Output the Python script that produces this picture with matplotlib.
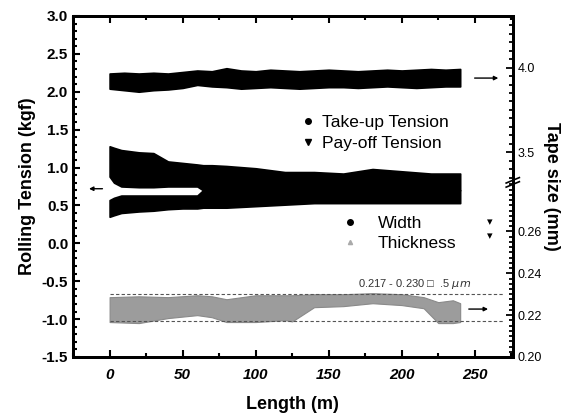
import numpy as np
import matplotlib
matplotlib.use('Agg')
import matplotlib.pyplot as plt
from matplotlib.lines import Line2D

plt.rcParams['font.family'] = ['Liberation Sans', 'DejaVu Sans']

# take-up tension band (kgf), envelope
takeup_x = [0, 10, 20, 30, 40, 50, 60, 70, 80, 90, 100, 110, 120, 130, 140, 150, 160, 170,
            180, 190, 200, 210, 220, 230, 240]
takeup_top = [2.24, 2.25, 2.24, 2.25, 2.24, 2.26, 2.28, 2.27, 2.31, 2.28, 2.27, 2.29, 2.28, 2.27,
              2.28, 2.29, 2.28, 2.27, 2.28, 2.29, 2.28, 2.29, 2.30, 2.29, 2.30]
takeup_bot = [2.04, 2.02, 2.00, 2.02, 2.03, 2.05, 2.09, 2.07, 2.06, 2.04, 2.05, 2.06, 2.05, 2.04,
              2.05, 2.06, 2.06, 2.05, 2.06, 2.07, 2.06, 2.05, 2.06, 2.07, 2.07]

# pay-off tension band (kgf), has a split in the first ~65 m
payoff_x = [0, 3, 8, 20, 30, 40, 50, 60, 64, 70, 80, 100, 120, 140, 160, 180, 200, 220, 240]
payoff_top = [1.28, 1.26, 1.23, 1.20, 1.19, 1.08, 1.06, 1.04, 1.03, 1.03, 1.02, 0.99, 0.94, 0.94,
              0.92, 0.98, 0.95, 0.92, 0.92]
payoff_gap_hi = [0.88, 0.80, 0.75, 0.74, 0.74, 0.75, 0.75, 0.75, 0.70, 0.70, 0.70, 0.70, 0.70, 0.70,
                 0.70, 0.70, 0.70, 0.70, 0.70]
payoff_gap_lo = [0.57, 0.60, 0.63, 0.63, 0.63, 0.63, 0.63, 0.63, 0.70, 0.70, 0.70, 0.70, 0.70, 0.70,
                 0.70, 0.70, 0.70, 0.70, 0.70]
payoff_bot = [0.35, 0.37, 0.40, 0.42, 0.43, 0.45, 0.46, 0.46, 0.47, 0.47, 0.47, 0.49, 0.51, 0.53,
              0.53, 0.53, 0.53, 0.53, 0.53]

# thickness band (mm, right axis lower part)
thick_x = [0, 20, 40, 60, 70, 80, 100, 120, 125, 140, 160, 180, 200, 215, 225, 235, 240]
thick_top = [0.2286, 0.2290, 0.2286, 0.2295, 0.2290, 0.2276, 0.2295, 0.2295, 0.2295, 0.2300,
             0.2300, 0.2305, 0.2300, 0.2286, 0.2262, 0.2271, 0.2257]
thick_bot = [0.2167, 0.2162, 0.2186, 0.2200, 0.2190, 0.2167, 0.2167, 0.2176, 0.2170, 0.2238,
             0.2243, 0.2257, 0.2248, 0.2233, 0.2162, 0.2162, 0.2167]

spec_lo, spec_hi = 0.217, 0.230

fig = plt.figure(figsize=(5.71, 4.19), dpi=100)
ax = fig.add_axes([0.128, 0.148, 0.77, 0.814])

ax.fill_between(takeup_x, takeup_bot, takeup_top, color='black', lw=1.2)
ax.fill_between(payoff_x, payoff_gap_hi, payoff_top, color='black', lw=1.2)
ax.fill_between(payoff_x, payoff_bot, payoff_gap_lo, color='black', lw=1.2)

ax.set_xlim(-25, 276)
ax.set_ylim(-1.5, 3.0)
ax.set_xticks([0, 50, 100, 150, 200, 250])
ax.set_xticks(np.arange(-25, 276, 25), minor=True)
ax.set_yticks(np.arange(-1.5, 3.01, 0.5))
ax.set_yticks(np.arange(-1.5, 3.01, 0.1), minor=True)
ax.set_yticklabels(['%.1f' % v for v in np.arange(-1.5, 3.01, 0.5)], fontweight='bold', fontsize=11)
ax.set_xticklabels(['0', '50', '100', '150', '200', '250'], fontweight='bold', fontstyle='italic',
                   fontsize=11)
ax.tick_params(which='both', direction='in', top=True, right=False, width=1.5)
ax.tick_params(which='major', length=5)
ax.tick_params(which='minor', length=3)
ax.tick_params(axis='x', pad=8)
for s in ax.spines.values():
    s.set_linewidth(2)

ax.set_xlabel('Length (m)', fontsize=13, fontweight='bold', labelpad=10)
ax.set_ylabel('Rolling Tension (kgf)', fontsize=13, fontweight='bold', labelpad=4)

# right axis, lower segment (thickness / width)
ax_lo = ax.twinx()
ax_lo.set_ylim(0.20, 0.363)
ax_lo.fill_between(thick_x, thick_bot, thick_top, color='#9c9c9c', lw=0.8, edgecolor='#8a8a8a')
ax_lo.hlines([spec_lo, spec_hi], 0, 270, colors='#555555', linestyles=(0, (3, 2)), lw=0.8)
ax_lo.text(170, 0.2335, '0.217 - 0.230 \u25a1  .5 $\\mu m$', fontsize=8, color='#333333')
ax_lo.set_yticks([0.20, 0.22, 0.24, 0.26])
ax_lo.set_yticks(np.arange(0.20, 0.2826, 0.0025), minor=True)
ax_lo.set_yticklabels(['0.20', '0.22', '0.24', '0.26'], fontsize=9)
ax_lo.tick_params(which='both', direction='in', width=1.3)
ax_lo.tick_params(which='major', length=5)
ax_lo.tick_params(which='minor', length=3)

# right axis, upper segment
ax_up = ax.twinx()
ax_up.set_ylim(2.295, 4.304)
ax_up.set_yticks([3.5, 4.0])
ax_up.set_yticks(np.arange(3.35, 4.31, 0.05), minor=True)
ax_up.set_yticklabels(['3.5', '4.0'], fontsize=9)
ax_up.tick_params(which='both', direction='in', width=1.3)
ax_up.tick_params(which='major', length=5)
ax_up.tick_params(which='minor', length=3)
ax_up.set_ylabel('Tape size (mm)', fontsize=13, fontweight='bold', rotation=270, labelpad=18)
for a in (ax_lo, ax_up):
    for s in a.spines.values():
        s.set_linewidth(2)

# axis break mark on the right spine
for dy in (0.0, 0.012):
    ax.plot([0.985, 1.015], [0.498 + dy, 0.514 + dy], transform=ax.transAxes, color='black',
            lw=1.2, clip_on=False)

# arrows pointing to the relevant axes
ax.annotate('', xy=(-16, 0.72), xytext=(-3, 0.72),
            arrowprops=dict(arrowstyle='-|>', lw=1, color='black', mutation_scale=6))
ax.annotate('', xy=(268, 2.18), xytext=(248, 2.18),
            arrowprops=dict(arrowstyle='-|>', lw=1, color='black', mutation_scale=6))
ax_lo.annotate('', xy=(261, 0.2229), xytext=(244, 0.2229),
               arrowprops=dict(arrowstyle='-|>', lw=1, color='black', mutation_scale=6))

# legends
h1 = [Line2D([], [], ls='none', marker='o', ms=4, color='black'),
      Line2D([], [], ls='none', marker='v', ms=4, color='black')]
leg1 = ax_up.legend(h1, ['Take-up Tension', 'Pay-off Tension'], loc='upper left',
                    bbox_to_anchor=(0.48, 0.755), frameon=False, fontsize=12.5, handlelength=1,
                    handletextpad=0.3, labelspacing=0.3)
ax_up.add_artist(leg1)
h2 = [Line2D([], [], ls='none', marker='o', ms=4, color='black'),
      Line2D([], [], ls='none', marker='^', ms=3, color='#aaaaaa')]
ax_up.legend(h2, ['Width', 'Thickness'], loc='upper left', bbox_to_anchor=(0.575, 0.46),
             frameon=False, fontsize=12.5, handlelength=1, handletextpad=1.1, labelspacing=0.3)
ax.text(0.947, 0.395, '\u25be', transform=ax.transAxes, fontsize=8, ha='center', va='center')
ax.text(0.947, 0.355, '\u25be', transform=ax.transAxes, fontsize=8, ha='center', va='center')

fig.savefig('out.png', dpi=100)
